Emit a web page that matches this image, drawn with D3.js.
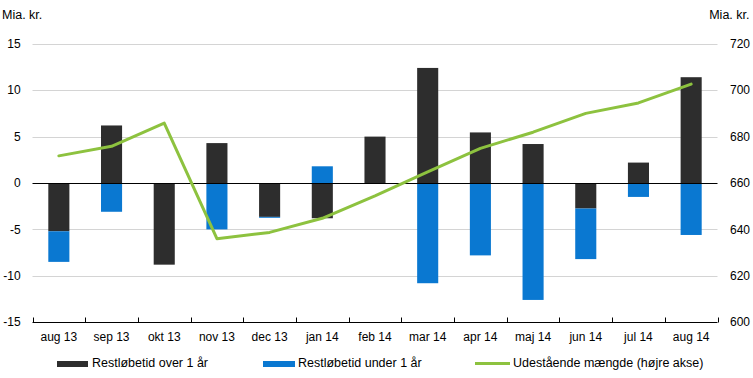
<!DOCTYPE html>
<html><head><meta charset="utf-8">
<script src="https://cdn.jsdelivr.net/npm/d3@7"></script>
<style>
html,body{margin:0;padding:0;background:#fff;}
svg{display:block;font-family:"Liberation Sans",Arial,sans-serif;}
</style></head>
<body><svg id="chart" width="753" height="378"></svg>
<script>
const categories = ["aug 13","sep 13","okt 13","nov 13","dec 13","jan 14","feb 14","mar 14","apr 14","maj 14","jun 14","jul 14","aug 14"];
const overOneYear = [-5.2, 6.2, -8.8, 4.3, -3.65, -3.8, 5.0, 12.4, 5.45, 4.2, -2.75, 2.2, 11.4];
const underOneYear = [-3.3, -3.1, 0, -5.0, -0.1, 1.8, -0.1, -10.8, -7.8, -12.6, -5.45, -1.5, -5.6];
const outstanding = [671.7, 675.8, 685.8, 636.0, 638.7, 644.8, 654.5, 664.8, 674.9, 681.9, 690.0, 694.5, 702.6];
const leftTicks = [-15, -10, -5, 0, 5, 10, 15];
const rightTicks = [600, 620, 640, 660, 680, 700, 720];
const seriesNames = ["Restløbetid over 1 år", "Restløbetid under 1 år", "Udestående mængde (højre akse)"];
const unitLabel = "Mia. kr.";

const colors = {over: "#2d2d2d", under: "#0a78d1", line: "#8dc23f", grid: "#d4d4d4"};
const svg = d3.select("#chart");
const L = 32.5, R = 717.5, T = 43.8, B = 322.2;

const x = d3.scaleBand().domain(categories).range([L, R]).paddingInner(0.6).paddingOuter(0.3);
const y = d3.scaleLinear().domain([-15, 15]).range([B, T]);
const y2 = d3.scaleLinear().domain([600, 720]).range([B, T]);

// gridlines
svg.append("g").selectAll("line").data(leftTicks.filter(d => d !== 0 && d !== -15)).join("line")
  .attr("x1", L).attr("x2", R)
  .attr("y1", d => Math.round(y(d)) + 0.5).attr("y2", d => Math.round(y(d)) + 0.5)
  .attr("stroke", colors.grid).attr("stroke-width", 1);

// stacked bars (diverging)
const rows = categories.map((c, i) => ({cat: c, over: overOneYear[i], under: underOneYear[i]}));
const stack = d3.stack().keys(["over", "under"]).offset(d3.stackOffsetDiverging);
const stacked = stack(rows);
svg.append("g").selectAll("g").data(stacked).join("g")
  .attr("fill", d => colors[d.key])
  .selectAll("rect").data(d => d).join("rect")
  .attr("x", d => x(d.data.cat))
  .attr("width", x.bandwidth())
  .attr("y", d => y(Math.max(d[0], d[1])))
  .attr("height", d => Math.abs(y(d[0]) - y(d[1])));

// zero line
svg.append("line").attr("x1", L).attr("x2", R)
  .attr("y1", Math.round(y(0)) + 0.5).attr("y2", Math.round(y(0)) + 0.5)
  .attr("stroke", "#000").attr("stroke-width", 1);

// bottom axis
const by = Math.round(B) + 0.5;
svg.append("line").attr("x1", L).attr("x2", R).attr("y1", by).attr("y2", by).attr("stroke", "#000");
const bounds = categories.map(c => x(c) - x.step() * x.paddingInner() / 2).concat([R]);
bounds[0] = L;
svg.append("g").selectAll("line").data(bounds).join("line")
  .attr("x1", d => Math.round(d) + 0.5).attr("x2", d => Math.round(d) + 0.5)
  .attr("y1", by - 5).attr("y2", by)
  .attr("stroke", "#000");

// line series
const line = d3.line().x((d, i) => x(categories[i]) + x.bandwidth() / 2).y(d => y2(d));
svg.append("path").datum(outstanding).attr("d", line)
  .attr("fill", "none").attr("stroke", colors.line).attr("stroke-width", 3)
  .attr("stroke-linejoin", "round").attr("stroke-linecap", "round");

// axis labels
svg.append("g").selectAll("text").data(leftTicks).join("text")
  .attr("x", 20.7).attr("y", d => y(d)).attr("dy", "0.35em")
  .attr("text-anchor", "end").attr("font-size", 12).attr("fill", "#000")
  .text(d => d);
svg.append("g").selectAll("text").data(rightTicks).join("text")
  .attr("x", 750).attr("y", d => y2(d)).attr("dy", "0.35em")
  .attr("text-anchor", "end").attr("font-size", 12).attr("fill", "#000")
  .text(d => d);
svg.append("g").selectAll("text").data(categories).join("text")
  .attr("x", d => x(d) + x.bandwidth() / 2).attr("y", 341)
  .attr("text-anchor", "middle").attr("font-size", 12).attr("fill", "#000")
  .text(d => d);

svg.append("text").attr("x", 2).attr("y", 18.5).attr("font-size", 12.5).text(unitLabel);
svg.append("text").attr("x", 749.5).attr("y", 18.5).attr("text-anchor", "end").attr("font-size", 12.5).text(unitLabel);

// legend
const lg = svg.append("g").attr("font-size", 12.5);
lg.append("rect").attr("x", 57).attr("y", 361).attr("width", 31).attr("height", 6).attr("fill", colors.over);
lg.append("text").attr("x", 92).attr("y", 367).text(seriesNames[0]);
lg.append("rect").attr("x", 263).attr("y", 361).attr("width", 32).attr("height", 6).attr("fill", colors.under);
lg.append("text").attr("x", 298).attr("y", 367).text(seriesNames[1]);
lg.append("line").attr("x1", 475).attr("x2", 510).attr("y1", 363.5).attr("y2", 363.5)
  .attr("stroke", colors.line).attr("stroke-width", 3);
lg.append("text").attr("x", 513).attr("y", 367).text(seriesNames[2]);
</script></body></html>
